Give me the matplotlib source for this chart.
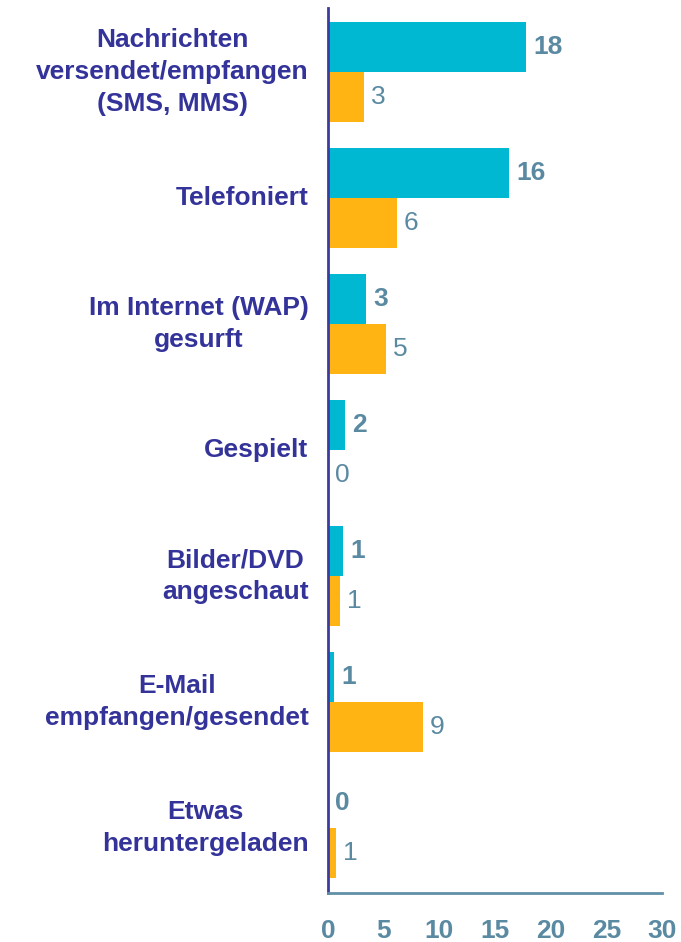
import matplotlib.pyplot as plt
import numpy as np

plt.rcParams['font.family'] = ['Liberation Sans', 'DejaVu Sans']

categories = [
    "Nachrichten\nversendet/empfangen\n(SMS, MMS)",
    "Telefoniert",
    "Im Internet (WAP)\ngesurft",
    "Gespielt",
    "Bilder/DVD\nangeschaut",
    "E-Mail\nempfangen/gesendet",
    "Etwas\nheruntergeladen",
]
# bar lengths (unrounded) and the rounded labels shown
teal_values = [17.8, 16.3, 3.45, 1.5, 1.35, 0.55, 0.0]
teal_labels = ["18", "16", "3", "2", "1", "1", "0"]
orange_values = [3.2, 6.2, 5.2, 0.0, 1.05, 8.5, 0.7]
orange_labels = ["3", "6", "5", "0", "1", "9", "1"]
xticks = [0, 5, 10, 15, 20, 25, 30]

teal = "#00B8D2"
orange = "#FFB414"
label_col = "#5A8AA2"
cat_col = "#33339A"

fig = plt.figure(figsize=(6.81, 9.42), dpi=100)
ax = fig.add_axes([328 / 681, 1 - 893 / 942, 334 / 681, 885 / 942])

y = np.arange(len(categories))
h = 0.397
ax.barh(y - h / 2, teal_values, height=h, color=teal)
ax.barh(y + h / 2, orange_values, height=h, color=orange)

for i in range(len(categories)):
    ax.annotate(teal_labels[i], (teal_values[i], y[i] - h / 2), xytext=(5, 0),
                textcoords="offset points", va="center", ha="left",
                fontsize=19, fontweight="bold", color=label_col)
    ax.annotate(orange_labels[i], (orange_values[i], y[i] + h / 2), xytext=(5, 0),
                textcoords="offset points", va="center", ha="left",
                fontsize=19, color=label_col)

ax.set_xlim(0, 30)
ax.set_ylim(6.516, -0.508)
ax.set_xticks(xticks)
ax.set_xticklabels([str(t) for t in xticks], fontsize=19, fontweight="bold", color=label_col)
ax.set_yticks(y)
ax.set_yticklabels(categories, fontsize=19, fontweight="bold", color=cat_col)
for t in ax.get_yticklabels():
    t.set_multialignment("center")
    t.set_linespacing(1.42)
    t.set_va("center")
ax.tick_params(axis="x", length=0, pad=19)
ax.tick_params(axis="y", length=0, pad=14)

ax.spines["top"].set_visible(False)
ax.spines["right"].set_visible(False)
ax.spines["left"].set_color("#3C3CA0")
ax.spines["left"].set_linewidth(2)
ax.spines["bottom"].set_color("#6090A8")
ax.spines["bottom"].set_linewidth(2)

fig.savefig("out.png", dpi=100)
